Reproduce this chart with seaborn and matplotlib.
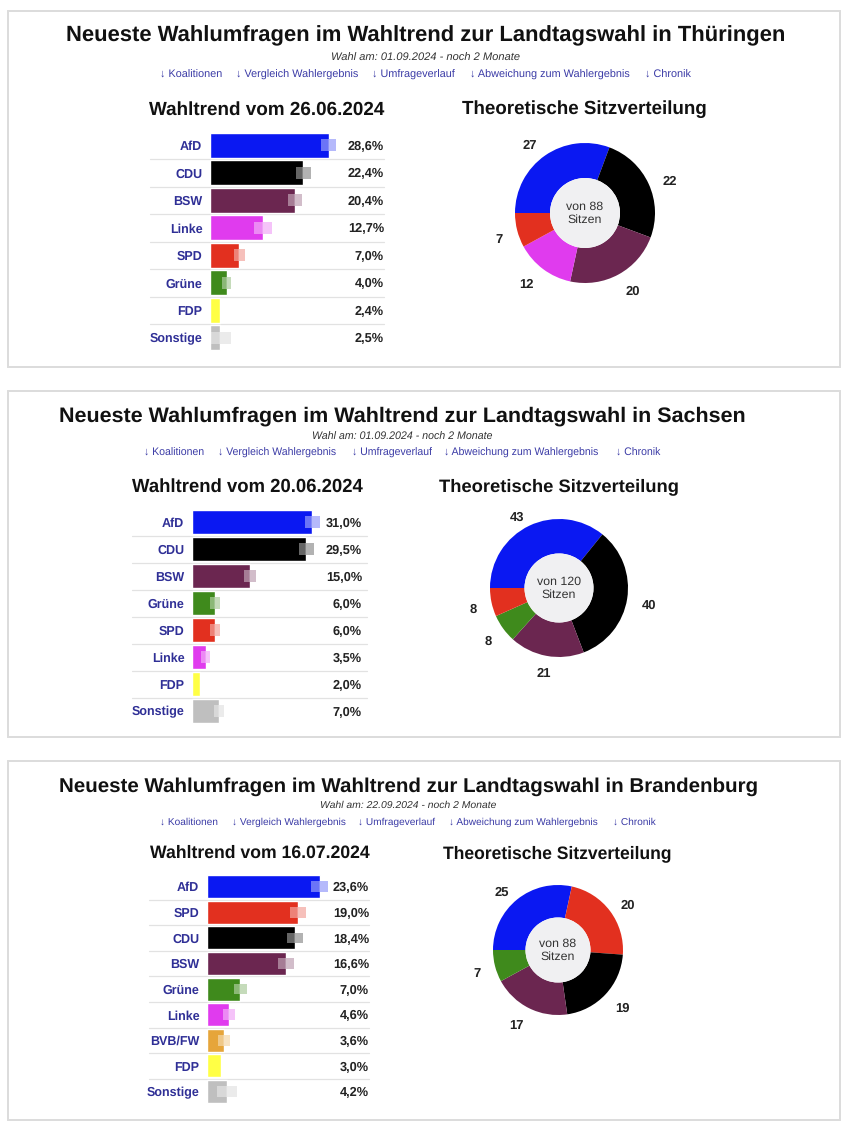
import matplotlib
matplotlib.use("Agg")
import matplotlib.pyplot as plt
from matplotlib.patches import Rectangle, Circle
import seaborn as sns

sns.set_style("white")
plt.rcParams["font.family"] = ["Liberation Sans", "DejaVu Sans"]
plt.rcParams["text.hinting"] = "no_hinting"

W, H = 848, 1131

# colours per party
colors = {"AfD": "#0a18f2", "CDU": "#000000", "BSW": "#6b2650", "Linke": "#e03bee",
          "SPD": "#e2301f", "Grüne": "#3f8a1c", "FDP": "#ffff45", "Sonstige": "#bfbfbf",
          "BVB/FW": "#e6a53a"}

links = ["↓ Koalitionen", "↓ Vergleich Wahlergebnis", "↓ Umfrageverlauf",
         "↓ Abweichung zum Wahlergebnis", "↓ Chronik"]

# Thüringen
th_title = "Neueste Wahlumfragen im Wahltrend zur Landtagswahl in Thüringen"
th_date = "Wahl am: 01.09.2024 - noch 2 Monate"
th_trend = "Wahltrend vom 26.06.2024"
th_parties = ["AfD", "CDU", "BSW", "Linke", "SPD", "Grüne", "FDP", "Sonstige"]
th_values = [28.6, 22.4, 20.4, 12.7, 7.0, 4.0, 2.4, 2.5]
th_errors = [1.8, 1.8, 1.7, 2.1, 1.3, 1.1, 0, 2.5]
th_seat_parties = ["AfD", "CDU", "BSW", "Linke", "SPD"]
th_seats = [27, 22, 20, 12, 7]

# Sachsen
sn_title = "Neueste Wahlumfragen im Wahltrend zur Landtagswahl in Sachsen"
sn_date = "Wahl am: 01.09.2024 - noch 2 Monate"
sn_trend = "Wahltrend vom 20.06.2024"
sn_parties = ["AfD", "CDU", "BSW", "Grüne", "SPD", "Linke", "FDP", "Sonstige"]
sn_values = [31.0, 29.5, 15.0, 6.0, 6.0, 3.5, 2.0, 7.0]
sn_errors = [2.0, 2.0, 1.6, 1.3, 1.3, 1.2, 0, 1.3]
sn_seat_parties = ["AfD", "CDU", "BSW", "Grüne", "SPD"]
sn_seats = [43, 40, 21, 8, 8]

# Brandenburg
bb_title = "Neueste Wahlumfragen im Wahltrend zur Landtagswahl in Brandenburg"
bb_date = "Wahl am: 22.09.2024 - noch 2 Monate"
bb_trend = "Wahltrend vom 16.07.2024"
bb_parties = ["AfD", "SPD", "CDU", "BSW", "Grüne", "Linke", "BVB/FW", "FDP", "Sonstige"]
bb_values = [23.6, 19.0, 18.4, 16.6, 7.0, 4.6, 3.6, 3.0, 4.2]
bb_errors = [1.75, 1.7, 1.7, 1.65, 1.3, 1.2, 1.2, 0, 2.1]
bb_seat_parties = ["AfD", "SPD", "CDU", "BSW", "Grüne"]
bb_seats = [25, 20, 19, 17, 7]

fig = plt.figure(figsize=(W / 100, H / 100), dpi=100)
bg = fig.add_axes([0, 0, 1, 1])
bg.set_xlim(0, W)
bg.set_ylim(H, 0)
bg.axis("off")


def px_axes(x0, y0, x1, y1):
    ax = fig.add_axes([x0 / W, 1 - y1 / H, (x1 - x0) / W, (y1 - y0) / H])
    ax.patch.set_alpha(0)
    return ax


def draw_panel(box, title, date, trend, parties, values, errors, seat_parties, seats, lay):
    bg.add_patch(Rectangle((box[0], box[1]), box[2] - box[0], box[3] - box[1],
                           fc="white", ec="#dcdcdc", lw=1.4))
    bg.text(lay["cx"], lay["y_title"], title, fontsize=lay["fs_title"], fontweight="bold",
            ha="center", va="center", color="#111111")
    bg.text(lay["cx"], lay["y_date"], date, fontsize=lay["fs_date"], style="italic",
            ha="center", va="center", color="#333333")
    for label, x in zip(links, lay["link_x"]):
        bg.text(x, lay["y_links"], label, fontsize=lay["fs_links"], ha="left", va="center",
                color="#3b3ba6")
    bg.text(lay["cx_trend"], lay["y_sub"], trend, fontsize=lay["fs_sub"], fontweight="bold",
            ha="center", va="center", color="#111111")
    bg.text(lay["cx_seats"], lay["y_sub"], "Theoretische Sitzverteilung", fontsize=lay["fs_seat"],
            fontweight="bold", ha="center", va="center", color="#111111")

    # bars
    x0, rows_top, step, scale = lay["x0"], lay["rows_top"], lay["step"], lay["scale"]
    n = len(parties)
    rows_bottom = rows_top + n * step
    ax = px_axes(x0, rows_top, lay["x_right"], rows_bottom)
    sns.barplot(x=values, y=parties, hue=parties, palette=[colors[p] for p in parties],
                legend=False, width=0.9, orient="h", saturation=1, ax=ax)
    for i, (v, e, p) in enumerate(zip(values, errors, parties)):
        if e > 0:
            left = max(0, v - e)
            ax.barh(i, v - left, left=left, height=0.42, color="white", alpha=0.4, lw=0)
            ax.barh(i, e, left=v, height=0.42, color=colors[p], alpha=0.3, lw=0)
        ax.text(1, i, f"{v:.1f}%".replace(".", ","), transform=ax.get_yaxis_transform(),
                ha="right", va="center_baseline", fontsize=9.2, fontweight="bold", color="#222222")
    ax.set_xlim(0, (lay["x_right"] - x0) / scale)
    ax.set_ylim(n - 0.5, -0.5)
    sns.despine(ax=ax, left=True, bottom=True)
    ax.set_xlabel("")
    ax.set_ylabel("")
    ax.set_xticks([])
    ax.tick_params(axis="y", length=0, pad=5.5)
    for t in ax.get_yticklabels():
        t.set_fontsize(9)
        t.set_fontweight("bold")
        t.set_color("#2f2f96")
    for i in range(1, n):
        bg.plot([lay["sep_x0"], lay["sep_x1"]], [rows_top + i * step] * 2, color="#e2e2e2", lw=0.9)

    # donut
    cx, cy, r = lay["pie"]
    pad = 1.05
    pie_ax = px_axes(cx - r * pad, cy - r * pad, cx + r * pad, cy + r * pad)
    wedges, texts = pie_ax.pie(seats, labels=[str(s) for s in seats],
                               colors=[colors[p] for p in seat_parties], startangle=180,
                               counterclock=False, labeldistance=1.29,
                               wedgeprops={"width": 0.5, "lw": 0})
    pie_ax.set_xlim(-pad, pad)
    pie_ax.set_ylim(-pad, pad)
    for t, (dx, dy) in zip(texts, lay["label_off"]):
        tx, ty = t.get_position()
        t.set_position((tx + dx / r, ty - dy / r))
        t.set_ha("center")
        t.set_fontsize(9.4)
        t.set_fontweight("bold")
        t.set_color("#222222")
    pie_ax.add_patch(Circle((0, 0), 0.5, fc="#f0f0f2", ec="none"))
    pie_ax.text(0, 0, f"von {sum(seats)}\nSitzen", ha="center", va="center", fontsize=8.9,
                color="#333333", linespacing=1.2)


draw_panel((8, 11, 840, 367), th_title, th_date, th_trend, th_parties, th_values, th_errors,
           th_seat_parties, th_seats,
           dict(cx=426, y_title=36, y_date=58.5, y_links=75, y_sub=109.5, fs_title=15.8, fs_links=7.8,
                fs_date=8.0, fs_sub=13.6, fs_seat=13.5, cx_trend=266.5, cx_seats=584.5,
                link_x=[160, 236, 372, 470, 645], x0=210, rows_top=131.5, step=27.5, scale=4.16,
                x_right=384, sep_x0=150, sep_x1=384, pie=(585, 213, 70),
                label_off=[(-4, 7), (3, 6), (5, -1), (-4, -1), (2, 4)]))

draw_panel((8, 391, 840, 737), sn_title, sn_date, sn_trend, sn_parties, sn_values, sn_errors,
           sn_seat_parties, sn_seats,
           dict(cx=402.5, y_title=416.5, y_date=437, y_links=453, y_sub=486.5, fs_title=15.45, fs_links=7.6,
                fs_date=7.7, fs_sub=13.35, fs_seat=13.2, cx_trend=247.5, cx_seats=559,
                link_x=[144, 218, 352, 444, 616], x0=192, rows_top=508.5, step=27, scale=3.88,
                x_right=362, sep_x0=132, sep_x1=367, pie=(559, 588, 69),
                label_off=[(-4, 10), (2, 4), (1, -2), (1, 1), (1, 3)]))

draw_panel((8, 761, 840, 1120), bb_title, bb_date, bb_trend, bb_parties, bb_values, bb_errors,
           bb_seat_parties, bb_seats,
           dict(cx=408.5, y_title=787, y_date=805.5, y_links=822, y_sub=853.5, fs_title=14.76, fs_links=7.3,
                fs_date=7.5, fs_sub=12.7, fs_seat=12.65, cx_trend=260, cx_seats=557,
                link_x=[160, 232, 358, 449, 613], x0=207, rows_top=873.9, step=25.6, scale=4.77,
                x_right=369, sep_x0=149, sep_x1=369, pie=(558, 950, 65),
                label_off=[(-4, 8), (3, 6), (3, 1), (-4, 1), (0, 3)]))

fig.savefig("out.png", dpi=100)
